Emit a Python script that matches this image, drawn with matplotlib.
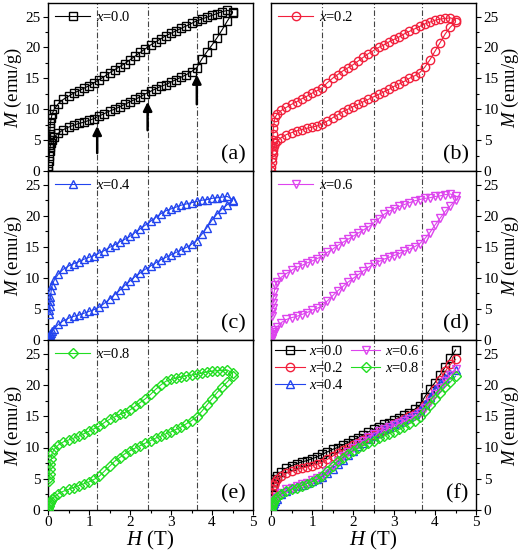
import matplotlib
matplotlib.use("Agg")
import matplotlib.pyplot as plt
from matplotlib.ticker import MultipleLocator

plt.rcParams['font.family'] = ['Liberation Serif', 'DejaVu Serif']
plt.rcParams['mathtext.fontset'] = 'custom'
plt.rcParams['mathtext.rm'] = 'Liberation Serif'
plt.rcParams['mathtext.it'] = 'Liberation Serif:italic'

# ---------------------------------------------------------------- data
# field steps (T), increasing and decreasing sweeps
H_up = [0.0, 0.01, 0.02, 0.03, 0.04, 0.05, 0.07, 0.1, 0.15, 0.25, 0.375, 0.5, 0.625, 0.75, 0.875,
        1.0, 1.125, 1.25, 1.375, 1.5, 1.625, 1.75, 1.875, 2.0, 2.125, 2.25, 2.375, 2.5, 2.625,
        2.75, 2.875, 3.0, 3.125, 3.25, 3.375, 3.5, 3.625, 3.75, 3.875, 4.0, 4.125, 4.25, 4.375, 4.5]
H_down = [4.5, 4.375, 4.25, 4.125, 4.0, 3.875, 3.75, 3.625, 3.5, 3.375, 3.25, 3.125, 3.0, 2.875,
          2.75, 2.625, 2.5, 2.375, 2.25, 2.125, 2.0, 1.875, 1.75, 1.625, 1.5, 1.375, 1.25, 1.125,
          1.0, 0.875, 0.75, 0.625, 0.5, 0.375, 0.25, 0.15, 0.1, 0.08, 0.06, 0.05, 0.04, 0.03, 0.02]

# M (emu/g) for each sample
M_up_00 = [0, 0.8, 1.6, 2.4, 3.2, 3.9, 4.5, 5.0, 5.5, 6.1, 6.7, 7.1, 7.4, 7.7, 7.9, 8.2, 8.5, 8.9,
           9.3, 9.7, 10.0, 10.4, 10.8, 11.2, 11.6, 12.0, 12.5, 12.9, 13.3, 13.7, 14.0, 14.4, 14.8,
           15.2, 15.6, 16.1, 16.7, 18.1, 19.3, 20.4, 21.6, 22.9, 24.3, 25.6]
M_dn_00 = [25.8, 26.0, 25.8, 25.5, 25.2, 24.9, 24.6, 24.3, 23.9, 23.5, 23.1, 22.7, 22.3, 21.9,
           21.4, 20.9, 20.4, 19.8, 19.2, 18.6, 18.0, 17.4, 16.9, 16.4, 15.9, 15.3, 14.8, 14.3,
           13.8, 13.4, 13.0, 12.6, 12.1, 11.6, 10.9, 10.0, 9.2, 8.6, 7.8, 7.0, 6.0, 5.0, 4.2]

M_up_02 = [0, 0.7, 1.4, 2.1, 2.8, 3.4, 4.0, 4.5, 4.9, 5.4, 5.9, 6.2, 6.5, 6.7, 6.9, 7.1, 7.3, 7.6,
           8.1, 8.6, 9.1, 9.6, 10.0, 10.4, 10.8, 11.2, 11.6, 12.0, 12.4, 12.8, 13.2, 13.7, 14.1,
           14.5, 15.0, 15.4, 15.9, 16.8, 18.0, 19.4, 20.8, 22.2, 23.3, 24.1]
M_dn_02 = [24.5, 24.8, 24.7, 24.6, 24.4, 24.1, 23.8, 23.4, 23.0, 22.6, 22.2, 21.7, 21.3, 20.9,
           20.4, 20.0, 19.5, 19.0, 18.4, 17.8, 17.2, 16.7, 16.2, 15.6, 15.0, 14.3, 13.5, 13.0,
           12.6, 12.1, 11.7, 11.2, 10.8, 10.3, 9.8, 9.2, 8.7, 8.0, 7.0, 6.0, 5.0, 4.0, 3.0]

M_up_04 = [0, 0.2, 0.4, 0.6, 0.8, 1.0, 1.2, 1.4, 1.8, 2.5, 3.1, 3.5, 3.8, 4.0, 4.3, 4.6, 4.9, 5.3,
           5.9, 6.6, 7.3, 8.0, 8.8, 9.5, 10.2, 10.8, 11.4, 11.9, 12.4, 12.9, 13.3, 13.7, 14.1,
           14.5, 14.9, 15.4, 16.0, 17.0, 18.1, 19.3, 20.3, 21.1, 21.8, 22.4]
M_dn_04 = [22.6, 23.1, 23.0, 22.9, 22.8, 22.6, 22.5, 22.3, 22.1, 21.9, 21.7, 21.4, 21.1, 20.8,
           20.3, 19.7, 19.1, 18.5, 17.9, 17.3, 16.7, 16.2, 15.8, 15.3, 14.9, 14.4, 14.0, 13.6,
           13.3, 13.0, 12.6, 12.3, 11.9, 11.4, 10.6, 9.6, 8.8, 8.0, 7.0, 6.2, 5.5, 4.8, 4.2]

M_up_06 = [0, 0.2, 0.4, 0.6, 0.8, 1.0, 1.3, 1.6, 2.1, 2.8, 3.3, 3.6, 3.8, 4.1, 4.4, 4.8, 5.1, 5.5,
           6.3, 7.1, 7.9, 8.6, 9.3, 9.9, 10.5, 11.1, 11.7, 12.2, 12.6, 13.0, 13.3, 13.6, 13.9,
           14.3, 14.6, 15.0, 15.5, 16.3, 17.3, 18.5, 19.6, 20.7, 21.6, 22.5]
M_dn_06 = [23.2, 23.5, 23.4, 23.2, 23.1, 22.9, 22.8, 22.6, 22.4, 22.1, 21.8, 21.5, 21.1, 20.7,
           20.2, 19.5, 18.8, 18.2, 17.7, 17.2, 16.7, 16.2, 15.7, 15.2, 14.6, 14.1, 13.5, 13.1,
           12.7, 12.4, 12.0, 11.7, 11.2, 10.7, 10.1, 9.4, 8.8, 7.8, 6.8, 6.0, 5.2, 4.5, 3.9]

M_up_08 = [0, 0.3, 0.6, 0.9, 1.1, 1.3, 1.5, 1.8, 2.1, 2.6, 3.0, 3.3, 3.6, 3.9, 4.2, 4.5, 4.9, 5.4,
           6.2, 7.0, 7.8, 8.4, 9.0, 9.5, 9.9, 10.3, 10.7, 11.1, 11.5, 11.8, 12.2, 12.5, 12.9,
           13.3, 13.8, 14.3, 14.9, 15.8, 16.8, 17.8, 18.8, 19.7, 20.5, 21.4]
M_dn_08 = [21.9, 22.4, 22.3, 22.3, 22.2, 22.1, 21.9, 21.7, 21.6, 21.5, 21.3, 21.1, 20.9, 20.6,
           20.0, 19.3, 18.5, 17.8, 17.2, 16.6, 16.0, 15.6, 15.3, 14.9, 14.5, 14.0, 13.4, 13.0,
           12.6, 12.2, 11.8, 11.5, 11.2, 10.9, 10.4, 9.7, 9.1, 8.2, 7.3, 6.5, 5.8, 5.2, 4.7]

labels = ['0.0', '0.2', '0.4', '0.6', '0.8']
colors = ['black', '#f2203c', '#2244ee', '#dd44ee', '#22dd22']
markers = ['s', 'o', '^', 'v', 'D']
M_up = [M_up_00, M_up_02, M_up_04, M_up_06, M_up_08]
M_dn = [M_dn_00, M_dn_02, M_dn_04, M_dn_06, M_dn_08]
panel_tags = ['(a)', '(b)', '(c)', '(d)', '(e)', '(f)']

vlines_left = [1.2, 2.43, 3.63]
vlines_right = [1.25, 2.5, 3.68]

# arrows in (a): (H, M tail, M head)
arrows = [(1.2, 2.9, 7.3), (2.43, 6.6, 11.2), (3.63, 10.8, 15.6)]

# ---------------------------------------------------------------- layout
W, Hh = 524, 555
fig = plt.figure(figsize=(W / 100, Hh / 100), dpi=100)
col_x = [48, 271]
row_top = [3, 171, 340]
row_bot = [171, 340, 510]
pw = 205

axes = []
for r in range(3):
    for c in range(2):
        ax = fig.add_axes([col_x[c] / W, 1 - row_bot[r] / Hh, pw / W, (row_bot[r] - row_top[r]) / Hh])
        axes.append((ax, r, c))


def marker_size(m):
    return 6.0 if m != 'D' else 5.5


def style_axis(ax, r, c):
    ax.set_xlim(0, 5)
    ax.set_ylim(0, 27.2)
    ax.xaxis.set_major_locator(MultipleLocator(1))
    ax.xaxis.set_minor_locator(MultipleLocator(0.5))
    ax.yaxis.set_major_locator(MultipleLocator(5))
    ax.yaxis.set_minor_locator(MultipleLocator(2.5))
    ax.tick_params(which='both', direction='out', top=False, labelsize=11, width=0.8)
    ax.tick_params(which='major', length=3.5)
    ax.tick_params(which='minor', length=2)
    if c == 0:
        ax.tick_params(which='both', left=True, right=False, labelleft=True, labelright=False)
    else:
        ax.yaxis.tick_right()
        ax.yaxis.set_label_position('right')
    ax.tick_params(axis='y', pad=2)
    ax.set_ylabel('$M$ (emu/g)', fontsize=13.5, labelpad=1)
    if r == 2:
        ax.set_xlabel('$H$ (T)', fontsize=15, labelpad=0)
        ax.tick_params(axis='x', pad=1)
    else:
        ax.tick_params(axis='x', labelbottom=False)
    for sp in ax.spines.values():
        sp.set_linewidth(1.0)
    vl = vlines_left if c == 0 else vlines_right
    for v in vl:
        ax.axvline(v, color='#444444', lw=0.8, ls=(0, (5, 2, 1, 2)), zorder=1)


for i, (ax, r, c) in enumerate(axes):
    style_axis(ax, r, c)
    if i < 5:
        ax.plot(H_up + H_down, M_up[i] + M_dn[i], color=colors[i], marker=markers[i],
                ms=marker_size(markers[i]), mfc='none', mew=1.0, lw=0.8,
                label='$x$=' + labels[i], zorder=3)
        ax.legend(loc='upper left', frameon=False, fontsize=10.5, handlelength=2.4,
                  borderaxespad=0.3, handletextpad=0.4, borderpad=0.2)
    else:
        for j in range(5):
            ax.plot(H_up, M_up[j], color=colors[j], marker=markers[j],
                    ms=marker_size(markers[j]), mfc='none', mew=1.0, lw=0.8,
                    label='$x$=' + labels[j], zorder=3)
        ax.legend(loc='upper left', frameon=False, fontsize=10.5, ncol=2, handlelength=2.0,
                  borderaxespad=0.2, handletextpad=0.3, columnspacing=0.5, borderpad=0.1,
                  labelspacing=0.2)
    ax.text(0.965, 0.04, panel_tags[i], transform=ax.transAxes, ha='right', va='bottom',
            fontsize=16)
    if i == 0:
        for hx, m0, m1 in arrows:
            ax.annotate('', xy=(hx, m1), xytext=(hx, m0),
                        arrowprops=dict(arrowstyle='-|>', color='black', lw=1.8,
                                        mutation_scale=13, shrinkA=0, shrinkB=0), zorder=4)

fig.savefig('out.png', dpi=100)
